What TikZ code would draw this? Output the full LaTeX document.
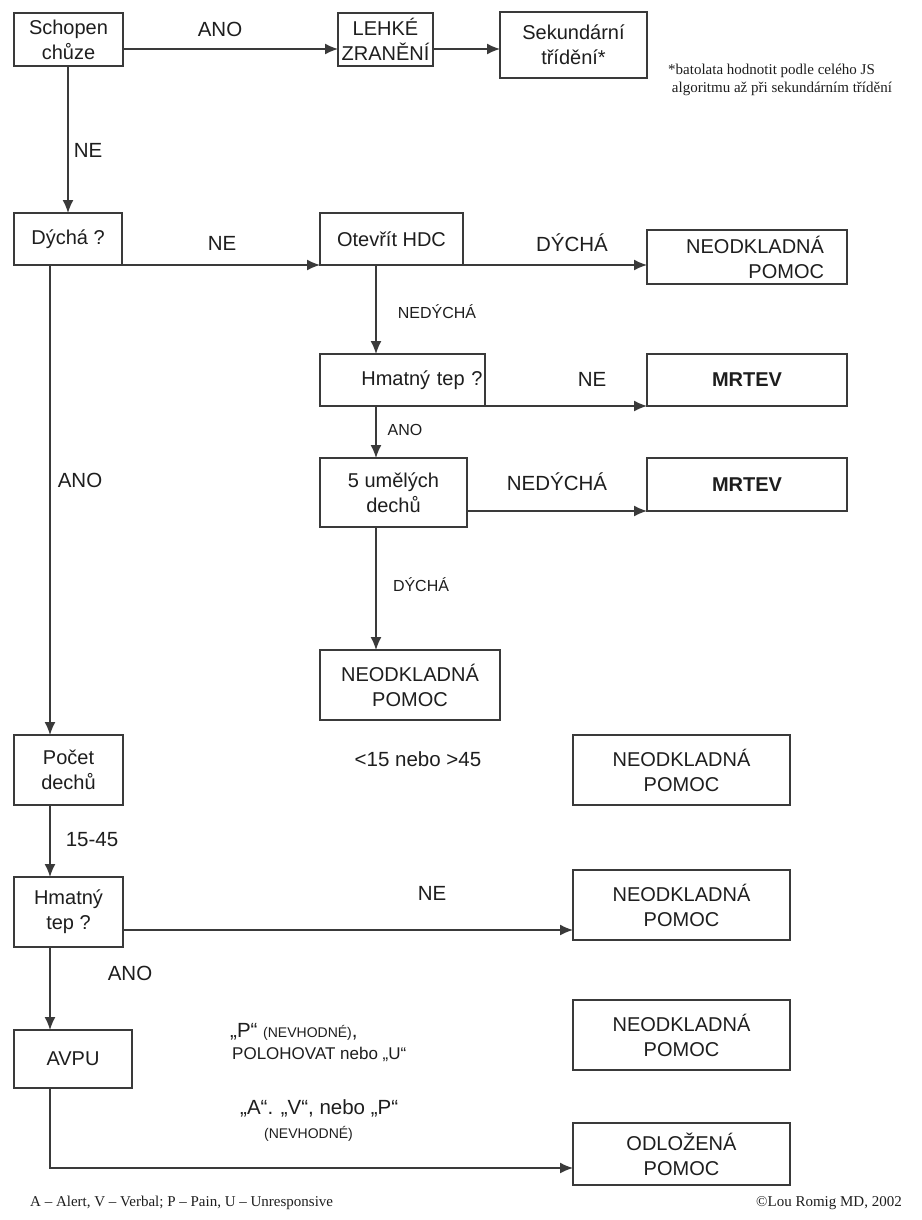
\documentclass[tikz,border=0pt]{standalone}
\usepackage{fontspec}
\setmainfont{Liberation Sans}
\newfontfamily\notefont{Liberation Serif}
\usetikzlibrary{arrows.meta}
\definecolor{ln}{HTML}{3A3A3A}
\definecolor{tx}{HTML}{1E1E1E}
\tikzset{
 box/.style={draw=ln, line width=1.3pt, inner sep=0pt, outer sep=0pt, align=center, text=tx, font=\fontsize{20}{25}\selectfont},
 conn/.style={draw=ln, line width=1.5pt, -{Latex[length=13pt,width=11pt]}},
 lbl/.style={text=tx, font=\fontsize{20.5}{25}\selectfont, inner sep=0pt},
 slbl/.style={text=tx, font=\fontsize{16}{19}\selectfont, inner sep=0pt},
 tlbl/.style={text=tx, font=\fontsize{14}{17}\selectfont, inner sep=0pt},
 note/.style={text=tx, font=\notefont\fontsize{15}{18}\selectfont, inner sep=0pt, align=left}
}
\newcommand{\mybox}[7][]{\node[box,minimum width={#5-#3},minimum height={#6-#4},#1] (#2) at ({(#3+#5)/2},{(#4+#6)/2}) {#7};}
\begin{document}
\begin{tikzpicture}[x=1pt,y=-1pt]
\useasboundingbox[fill=white] (0,0) rectangle (921,1220);
% boxes
\mybox{schopen}{14}{13}{123}{66}{Schopen\\chůze}
\mybox{lehke}{338}{13}{433}{66}{LEHKÉ\\ZRANĚNÍ}
\mybox{sekund}{500}{12}{647}{78}{Sekundární\\třídění*}
\mybox{dycha}{14}{213}{122}{265}{Dýchá ?}
\mybox{otevrit}{320}{213}{463}{265}{Otevřít HDC}
\mybox[text width=154pt,align=right]{neod1}{647}{230}{847}{284}{NEODKLADNÁ\\POMOC}
\mybox[text width=160pt,align=right]{hmat1}{320}{354}{485}{406}{Hmatný tep ?}
\mybox{mrtev1}{647}{354}{847}{406}{\bfseries MRTEV}
\mybox{umel}{320}{458}{467}{527}{5 umělých\\dechů}
\mybox{mrtev2}{647}{458}{847}{511}{\bfseries MRTEV}
\mybox{neod2}{320}{650}{500}{720}{NEODKLADNÁ\\POMOC}
\mybox{pocet}{14}{735}{123}{805}{Počet\\dechů}
\mybox{neod3}{573}{735}{790}{805}{NEODKLADNÁ\\POMOC}
\mybox{hmat2}{14}{877}{123}{947}{Hmatný\\tep ?}
\mybox{neod4}{573}{870}{790}{940}{NEODKLADNÁ\\POMOC}
\mybox{avpu}{14}{1030}{132}{1088}{AVPU}
\mybox{neod5}{573}{1000}{790}{1070}{NEODKLADNÁ\\POMOC}
\mybox{odloz}{573}{1123}{790}{1185}{ODLOŽENÁ\\POMOC}
% connectors
\draw[conn] (schopen.east |- 0,49) -- (lehke.west |- 0,49);
\draw[conn] (lehke.east |- 0,49) -- (sekund.west |- 0,49);
\draw[conn] (schopen.south -| 68,0) -- (dycha.north -| 68,0);
\draw[conn] (dycha.south east) -- (otevrit.south west);
\draw[conn] (otevrit.south east) -- (neod1.west |- otevrit.south);
\draw[conn] (otevrit.south -| 376,0) -- (hmat1.north -| 376,0);
\draw[conn] (hmat1.south east) -- (mrtev1.south west);
\draw[conn] (hmat1.south -| 376,0) -- (umel.north -| 376,0);
\draw[conn] (umel.east |- mrtev2.south) -- (mrtev2.south west);
\draw[conn] (umel.south -| 376,0) -- (neod2.north -| 376,0);
\draw[conn] (dycha.south -| 50,0) -- (pocet.north -| 50,0);
\draw[conn] (pocet.south -| 50,0) -- (hmat2.north -| 50,0);
\draw[conn] (hmat2.east |- 0,930) -- (neod4.west |- 0,930);
\draw[conn] (hmat2.south -| 50,0) -- (avpu.north -| 50,0);
\draw[conn] (avpu.south -| 50,0) |- (odloz.west |- 0,1168);
% labels
\node[lbl] (t1) at (220,29) {ANO};
\node[lbl] (t2) at (88,150) {NE};
\node[lbl] (t3) at (222,243) {NE};
\node[lbl] (t4) at (572,243) {DÝCHÁ};
\node[slbl] (t5) at (437,312) {NEDÝCHÁ};
\node[lbl] (t6) at (592,379) {NE};
\node[slbl] (t7) at (405,430) {ANO};
\node[lbl] (t8) at (557,482) {NEDÝCHÁ};
\node[slbl] (t9) at (421,585) {DÝCHÁ};
\node[lbl] (t10) at (80,480) {ANO};
\node[lbl] (t11) at (418,759) {<15 nebo >45};
\node[lbl] (t12) at (92,840) {15-45};
\node[lbl] (t13) at (432,893) {NE};
\node[lbl] (t14) at (130,973) {ANO};
\node[lbl, anchor=west] (t15) at (230,1032) {„P“ {\fontsize{14}{17}\selectfont (NEVHODNÉ)},};
\node[lbl, anchor=west, font=\fontsize{17}{20}\selectfont] (t16) at (232,1054) {POLOHOVAT nebo „U“};
\node[lbl, anchor=west] (t17) at (240,1108) {„A“. „V“, nebo „P“};
\node[tlbl, anchor=west] (t18) at (264,1134) {(NEVHODNÉ)};
\node[note, anchor=north west] (n1) at (668,64) {*batolata hodnotit podle celého JS\\\ algoritmu až při sekundárním třídění};
\node[note, anchor=west] (f1) at (30,1203) {A – Alert, V – Verbal; P – Pain, U – Unresponsive};
\node[note, anchor=east] (f2) at (902,1203) {©Lou Romig MD, 2002};
\end{tikzpicture}
\end{document}
